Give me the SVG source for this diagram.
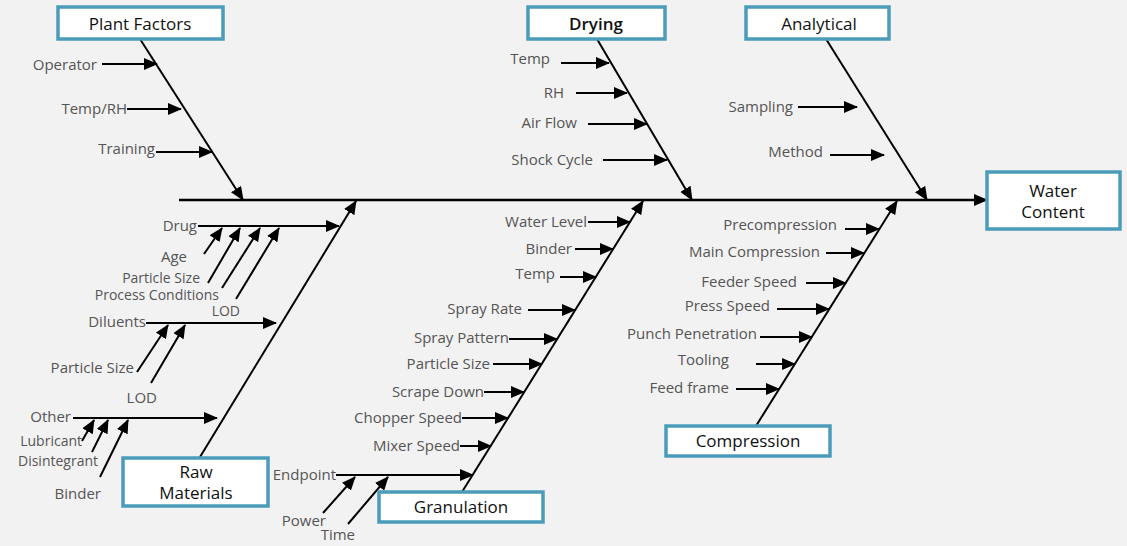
<svg xmlns="http://www.w3.org/2000/svg" width="1127" height="546" viewBox="0 0 1127 546">
<defs>
<marker id="ah" markerUnits="userSpaceOnUse" markerWidth="14" markerHeight="12" refX="13" refY="6" orient="auto">
<path d="M0,0 L14,6 L0,12 z" fill="#000"/>
</marker>
<style>
.box{fill:#fff;stroke:#4b9bbb;stroke-width:3.5}
.cat{font-family:"Open Sans","Noto Sans",sans-serif;font-size:17px;fill:#111;text-anchor:middle}
.lbl{font-family:"Open Sans","Noto Sans",sans-serif;font-size:15px;fill:#555;text-anchor:end}
.sm{font-size:14px}
.ln{stroke:#000;stroke-width:2;fill:none}
.ar{stroke:#000;stroke-width:2;fill:none;marker-end:url(#ah)}
</style>
</defs>
<rect width="1127" height="546" fill="#f2f2f2"/>

<g id="connectors">
<line class="ar" x1="179" y1="200" x2="987" y2="200" style="stroke-width:2.5"/>
<line class="ar" x1="140" y1="39" x2="243" y2="200"/>
<line class="ar" x1="597" y1="39" x2="692" y2="200"/>
<line class="ar" x1="826" y1="39" x2="927" y2="200"/>
<line class="ar" x1="200" y1="457" x2="356" y2="201"/>
<line class="ar" x1="462" y1="492" x2="643" y2="201"/>
<line class="ar" x1="756" y1="426" x2="897" y2="201"/>
<line class="ar" x1="102" y1="64" x2="157" y2="64"/>
<line class="ar" x1="127" y1="109" x2="181" y2="109"/>
<line class="ar" x1="156" y1="152" x2="212" y2="152"/>
<line class="ar" x1="561" y1="63" x2="609" y2="63"/>
<line class="ar" x1="576" y1="93" x2="627" y2="93"/>
<line class="ar" x1="588" y1="124" x2="647" y2="124"/>
<line class="ar" x1="603" y1="160" x2="667" y2="160"/>
<line class="ar" x1="798" y1="107" x2="857" y2="107"/>
<line class="ar" x1="830" y1="155" x2="884" y2="155"/>
<line class="ar" x1="198" y1="226" x2="339" y2="226"/>
<line class="ar" x1="204" y1="254" x2="222" y2="228"/>
<line class="ar" x1="208" y1="283" x2="240" y2="228"/>
<line class="ar" x1="222" y1="288" x2="260" y2="228"/>
<line class="ar" x1="236" y1="299" x2="279" y2="228"/>
<line class="ar" x1="146" y1="323" x2="276" y2="323"/>
<line class="ar" x1="137" y1="372" x2="168" y2="325"/>
<line class="ar" x1="151" y1="383" x2="185" y2="325"/>
<line class="ar" x1="73" y1="418" x2="217" y2="418"/>
<line class="ar" x1="82" y1="441" x2="94" y2="420"/>
<line class="ar" x1="92" y1="452" x2="108" y2="420"/>
<line class="ar" x1="100" y1="477" x2="128" y2="420"/>
<line class="ar" x1="588" y1="222" x2="630" y2="222"/>
<line class="ar" x1="575" y1="249" x2="613" y2="249"/>
<line class="ar" x1="560" y1="277" x2="596" y2="277"/>
<line class="ar" x1="528" y1="310" x2="575" y2="310"/>
<line class="ar" x1="509" y1="339" x2="557" y2="339"/>
<line class="ar" x1="493" y1="364" x2="542" y2="364"/>
<line class="ar" x1="484" y1="392" x2="524" y2="392"/>
<line class="ar" x1="462" y1="418" x2="508" y2="418"/>
<line class="ar" x1="460" y1="446" x2="491" y2="446"/>
<line class="ar" x1="336" y1="475" x2="473" y2="475"/>
<line class="ar" x1="323" y1="513" x2="355" y2="477"/>
<line class="ar" x1="348" y1="524" x2="388" y2="477"/>
<line class="ar" x1="845" y1="229" x2="879" y2="229"/>
<line class="ar" x1="826" y1="253" x2="864" y2="253"/>
<line class="ar" x1="806" y1="283" x2="846" y2="283"/>
<line class="ar" x1="777" y1="309" x2="829" y2="309"/>
<line class="ar" x1="760" y1="337" x2="812" y2="337"/>
<line class="ar" x1="756" y1="364" x2="795" y2="364"/>
<line class="ar" x1="736" y1="389" x2="779" y2="389"/>
</g>

<g id="water-content">
<rect class="box" x="987" y="172" width="133" height="57"/>
<text class="cat" x="1053" y="197">Water</text>
<text class="cat" x="1053" y="218">Content</text>
</g>

<g id="plant-factors">
<rect class="box" x="58" y="7" width="165" height="32"/>
<text class="cat" x="140" y="30">Plant Factors</text>
<text class="lbl" x="97" y="70">Operator</text>
<text class="lbl" x="127" y="114">Temp/RH</text>
<text class="lbl" x="155" y="154">Training</text>
</g>

<g id="drying">
<rect class="box" x="528" y="7" width="137" height="32"/>
<text class="cat" x="596" y="30" font-weight="600">Drying</text>
<text class="lbl" x="550" y="64">Temp</text>
<text class="lbl" x="564" y="98">RH</text>
<text class="lbl" x="577" y="128">Air Flow</text>
<text class="lbl" x="593" y="165">Shock Cycle</text>
</g>

<g id="analytical">
<rect class="box" x="746" y="7" width="143" height="32"/>
<text class="cat" x="819" y="30">Analytical</text>
<text class="lbl" x="793" y="112">Sampling</text>
<text class="lbl" x="823" y="157">Method</text>
</g>

<g id="raw-materials">
<rect class="box" x="123" y="458" width="145" height="48"/>
<text class="cat" x="196" y="478">Raw</text>
<text class="cat" x="196" y="499">Materials</text>
<text class="lbl" x="197" y="231">Drug</text>
<text class="lbl" x="187" y="262">Age</text>
<text class="lbl sm" x="200" y="283">Particle Size</text>
<text class="lbl sm" x="219" y="300">Process Conditions</text>
<text class="lbl sm" x="240" y="316">LOD</text>
<text class="lbl" x="146" y="327">Diluents</text>
<text class="lbl" x="134" y="373">Particle Size</text>
<text class="lbl" x="157" y="403">LOD</text>
<text class="lbl" x="71" y="422">Other</text>
<text class="lbl sm" x="82" y="446">Lubricant</text>
<text class="lbl sm" x="98" y="466">Disintegrant</text>
<text class="lbl" x="101" y="499">Binder</text>
</g>

<g id="granulation">
<rect class="box" x="379" y="492" width="164" height="30"/>
<text class="cat" x="461" y="513">Granulation</text>
<text class="lbl" x="587" y="227">Water Level</text>
<text class="lbl" x="572" y="254">Binder</text>
<text class="lbl" x="555" y="279">Temp</text>
<text class="lbl" x="522" y="314">Spray Rate</text>
<text class="lbl" x="509" y="343">Spray Pattern</text>
<text class="lbl" x="490" y="369">Particle Size</text>
<text class="lbl" x="484" y="397">Scrape Down</text>
<text class="lbl" x="462" y="423">Chopper Speed</text>
<text class="lbl" x="460" y="451">Mixer Speed</text>
<text class="lbl" x="336" y="480">Endpoint</text>
<text class="lbl" x="326" y="526">Power</text>
<text class="lbl" x="355" y="540">Time</text>
</g>

<g id="compression">
<rect class="box" x="666" y="426" width="164" height="30"/>
<text class="cat" x="748" y="447">Compression</text>
<text class="lbl" x="837" y="230">Precompression</text>
<text class="lbl" x="820" y="257">Main Compression</text>
<text class="lbl" x="797" y="287">Feeder Speed</text>
<text class="lbl" x="770" y="311">Press Speed</text>
<text class="lbl" x="757" y="339">Punch Penetration</text>
<text class="lbl" x="729" y="365">Tooling</text>
<text class="lbl" x="729" y="393">Feed frame</text>
</g>
</svg>
